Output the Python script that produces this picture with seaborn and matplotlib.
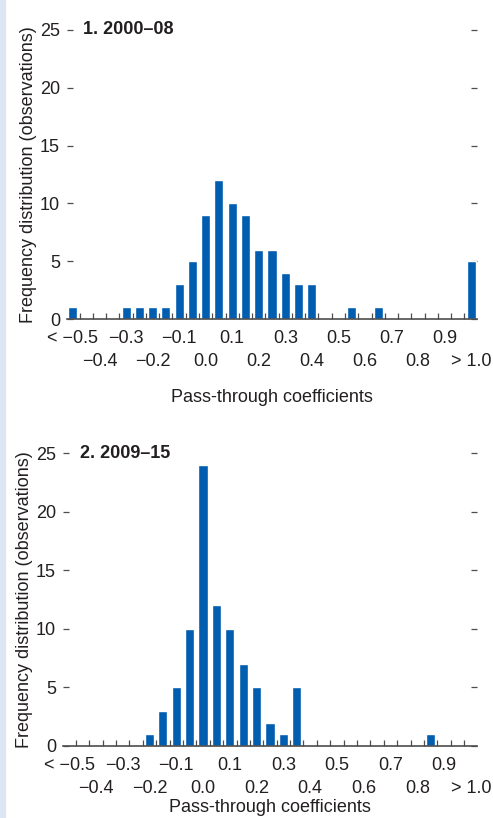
import numpy as np
import pandas as pd
import matplotlib.pyplot as plt
import seaborn as sns
from matplotlib.patches import Rectangle

sns.set_theme(style="white")
plt.rcParams['font.family'] = ['Liberation Sans', 'DejaVu Sans']

# bins of pass-through coefficients (width 0.05)
bins = ["<−0.5", "−0.45", "−0.4", "−0.35", "−0.3", "−0.25", "−0.2", "−0.15",
        "−0.1", "−0.05", "0.0", "0.05", "0.1", "0.15", "0.2", "0.25",
        "0.3", "0.35", "0.4", "0.45", "0.5", "0.55", "0.6", "0.65",
        "0.7", "0.75", "0.8", "0.85", "0.9", "0.95", ">1.0"]

# observations per bin
counts_2000_08 = [1, 0, 0, 0, 1, 1, 1, 1, 3, 5, 9, 12, 10, 9, 6, 6,
                  4, 3, 3, 0, 0, 1, 0, 1, 0, 0, 0, 0, 0, 0, 5]
counts_2009_15 = [0, 0, 0, 0, 0, 0, 1, 3, 5, 10, 24, 12, 10, 7, 5, 2,
                  1, 5, 0, 0, 0, 0, 0, 0, 0, 0, 0, 1, 0, 0, 0]

# tick labels, two rows
row1_labels = ["< −0.5", "−0.3", "−0.1", "0.1", "0.3", "0.5", "0.7", "0.9"]
row2_labels = ["−0.4", "−0.2", "0.0", "0.2", "0.4", "0.6", "0.8", "> 1.0"]

titles = ["1. 2000–08", "2. 2009–15"]
panels = [counts_2000_08, counts_2009_15]

bar_color = "#005DAF"
text_color = "#231F20"
axis_color = "#4D4D4D"

fig = plt.figure(figsize=(4.93, 8.18), dpi=100)
fig.patches.append(Rectangle((0, 0), 5 / 493, 1, transform=fig.transFigure,
                             color="#DCE6F2", zorder=0))

# axes boxes in pixels: left, top, right, bottom
boxes = [(67, 30, 477, 319), (63, 453, 477, 746)]
xlabel_pads = [14, 1.5]

for i, (counts, title) in enumerate(zip(panels, titles)):
    l, t, r, b = boxes[i]
    ax = fig.add_axes([l / 493, 1 - b / 818, (r - l) / 493, (b - t) / 818])
    df = pd.DataFrame({"bin": bins, "count": counts})
    sns.barplot(data=df, x="bin", y="count", order=bins, color=bar_color,
                saturation=1, width=0.68, ax=ax, zorder=3)

    ax.set_xlim(-0.45, 30.45)
    ax.set_ylim(0, 25)
    ax.set_yticks([0, 5, 10, 15, 20, 25])
    ax.tick_params(axis="y", which="both", direction="in", length=4, width=0.9,
                   color=axis_color, labelsize=13, labelcolor=text_color,
                   pad=5, left=True, right=True)

    # first row of labels
    ax.set_xticks(np.arange(0, 31, 4))
    ax.set_xticklabels(row1_labels, fontsize=13, color=text_color)
    ax.tick_params(axis="x", which="major", length=0, pad=8)
    # boundary ticks
    ax.set_xticks(np.arange(0.5, 30, 1), minor=True)
    ax.tick_params(axis="x", which="minor", direction="in", length=4.5,
                   width=0.9, color=axis_color, bottom=True)
    ax.set_xlabel("")

    # second row of labels
    sec = ax.secondary_xaxis("bottom")
    sec.set_xticks(np.arange(2, 31, 4))
    sec.set_xticklabels(row2_labels, fontsize=13, color=text_color)
    sec.tick_params(axis="x", length=0, pad=24.5)
    sec.spines["bottom"].set_visible(False)
    sec.set_xlabel("Pass-through coefficients", fontsize=13, color=text_color,
                   labelpad=xlabel_pads[i])

    for side in ["top", "left", "right"]:
        ax.spines[side].set_visible(False)
    ax.spines["bottom"].set_color(axis_color)
    ax.spines["bottom"].set_linewidth(1.2)
    ax.spines["bottom"].set_zorder(4)

    ax.set_ylabel("Frequency distribution (observations)", fontsize=13,
                  color=text_color, labelpad=2)
    ax.text(0.04, 1.0, title, transform=ax.transAxes, fontsize=13,
            fontweight="bold", color=text_color, va="center", ha="left")

fig.savefig("out.png", dpi=100)
